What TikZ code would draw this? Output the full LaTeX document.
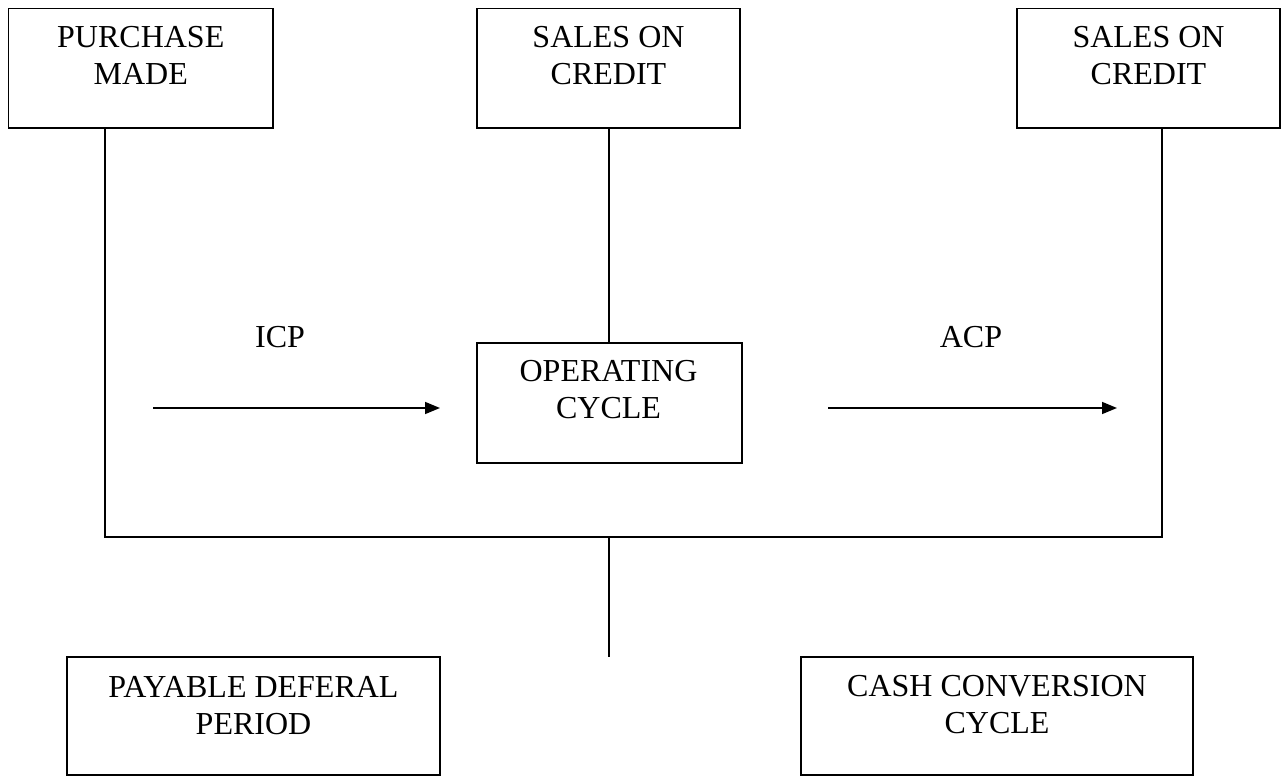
\documentclass[tikz,border=0pt]{standalone}
\usepackage{fontspec}
\setmainfont{Liberation Serif}
\usetikzlibrary{arrows.meta}
\tikzset{
  box/.style={draw, line width=1.6bp, inner sep=0pt, outer sep=0pt},
  lbl/.style={font=\fontsize{32bp}{37bp}\selectfont, align=center, inner sep=0pt, outer sep=0pt, anchor=north},
  tag/.style={font=\fontsize{32bp}{37bp}\selectfont, inner sep=0pt, anchor=base},
  conn/.style={line width=1.6bp},
  arr/.style={line width=1.6bp, -{Triangle[length=15bp,width=12bp]}}
}
\begin{document}
\begin{tikzpicture}[x=1bp, y=-1bp]
\useasboundingbox (0,0) rectangle (1285,776);
% boxes
\node[box, minimum width=264.5bp, minimum height=119.5bp] (pm) at (140.75,68.25) {};
\node[box, minimum width=263bp, minimum height=119.5bp] (sc1) at (608.5,68.25) {};
\node[box, minimum width=263bp, minimum height=119.5bp] (sc2) at (1148.5,68.25) {};
\node[box, minimum width=265bp, minimum height=120bp] (oc) at (609.5,403) {};
\node[box, minimum width=373bp, minimum height=118bp] (pd) at (253.5,716) {};
\node[box, minimum width=392bp, minimum height=118bp] (cc) at (997,716) {};
% box texts
\node[lbl] (pmt) at (140.75,26.5) {PURCHASE\\MADE};
\node[lbl] (sc1t) at (608.5,26.5) {SALES ON\\CREDIT};
\node[lbl] (sc2t) at (1148.5,26.5) {SALES ON\\CREDIT};
\node[lbl] (oct) at (608.5,360.5) {OPERATING\\CYCLE};
\node[lbl] (pdt) at (253.5,676) {PAYABLE DEFERAL\\PERIOD};
\node[lbl] (cct) at (997,675.5) {CASH CONVERSION\\CYCLE};
% labels
\node[tag] (icp) at (280,347) {ICP};
\node[tag] (acp) at (971,347) {ACP};
% junction coordinates
\coordinate (jl) at (105,537);
\coordinate (jr) at (1162,537);
\coordinate (jm) at (609,537);
\coordinate (jb) at (609,657);
\coordinate (a1s) at (153,408);
\coordinate (a1e) at (440,408);
\coordinate (a2s) at (828,408);
\coordinate (a2e) at (1117,408);
% connectors
\draw[conn] (pm.south -| jl) -- (jl) -- (jr) -- (sc2.south -| jr);
\draw[conn] (sc1.south -| jm) -- (oc.north -| jm);
\draw[conn] (jm) -- (jb);
\draw[arr] (a1s) -- (a1e);
\draw[arr] (a2s) -- (a2e);
\end{tikzpicture}
\end{document}
